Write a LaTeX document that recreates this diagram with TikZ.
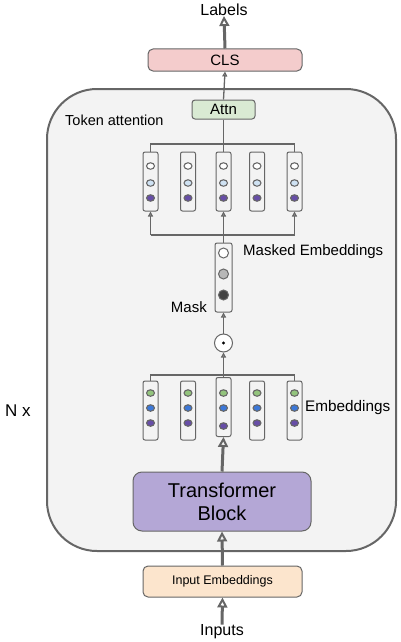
\documentclass[tikz,border=0pt]{standalone}
\usepackage{fontspec}
\setmainfont{Liberation Sans}
\usetikzlibrary{arrows.meta,shapes.geometric}
\definecolor{ln}{HTML}{666666}
\definecolor{bgc}{HTML}{F3F3F3}
\definecolor{clsc}{HTML}{F4CCCC}
\definecolor{attnc}{HTML}{D9EAD3}
\definecolor{tbc}{HTML}{B4A7D6}
\definecolor{iec}{HTML}{FCE5CD}
\definecolor{lblue}{HTML}{CFE2F3}
\definecolor{purp}{HTML}{674EA7}
\definecolor{grn}{HTML}{93C47D}
\definecolor{blu}{HTML}{3C78D8}
\definecolor{mgray}{HTML}{B7B7B7}
\definecolor{dgray}{HTML}{434343}
\tikzset{
  box/.style={draw=ln, line width=1pt, rounded corners=5pt, inner sep=0pt, align=center},
  col/.style={draw=ln, line width=1pt, rounded corners=2pt, minimum width=15pt, minimum height=59pt, inner sep=0pt},
  dotc/.style={ellipse, draw=ln, line width=1.1pt, minimum width=8pt, minimum height=6.5pt, inner sep=0pt},
  bigdot/.style={circle, draw=ln, line width=1pt, minimum size=10pt, inner sep=0pt},
  conn/.style={draw=ln, line width=1.3pt},
  thin/.style={conn, -{Triangle[open, length=5pt, width=5pt]}},
  thick/.style={draw=ln, line width=3pt, -{Triangle[open, length=10pt, width=10pt, line width=2pt]}},
  lbl/.style={inner sep=0pt, text=black}
}
\begin{document}
\begin{tikzpicture}[x=1pt,y=-1pt]
\useasboundingbox (0,0) rectangle (400,642);
% outer block
\node[draw=ln, line width=2pt, fill=bgc, rounded corners=50pt, minimum width=349pt, minimum height=462pt, inner sep=0pt] (outer) at (221.5,320) {};
% boxes
\node[box, fill=clsc, minimum width=154pt, minimum height=22pt, font=\fontsize{15}{17}\selectfont] (cls) at (225,60) {CLS};
\node[box, fill=attnc, rounded corners=3pt, minimum width=63pt, minimum height=19pt, font=\fontsize{15}{17}\selectfont] (attn) at (223.5,109.5) {Attn};
\node[box, fill=tbc, rounded corners=9pt, minimum width=178pt, minimum height=59pt, font=\fontsize{20}{23}\selectfont] (tb) at (222,501.5) {Transformer\\Block};
\node[box, fill=iec, rounded corners=5pt, minimum width=159pt, minimum height=31pt, font=\fontsize{12.5}{14}\selectfont] (ie) at (222.5,581.5) {Input Embeddings};
% texts
\node[lbl, font=\fontsize{16}{18}\selectfont] (labels) at (224,10) {Labels};
\node[lbl, font=\fontsize{16}{18}\selectfont] (inputs) at (222,632) {Inputs};
\node[lbl, font=\fontsize{17}{19}\selectfont] (nx) at (18,411) {N x};
\node[lbl, anchor=west, font=\fontsize{14.5}{17}\selectfont] (tokatt) at (65,120) {Token attention};
\node[lbl, anchor=west, font=\fontsize{15}{17}\selectfont] (maskemb) at (243,252) {Masked Embeddings};
\node[lbl, anchor=east, font=\fontsize{15}{17}\selectfont] (masklbl) at (207,307) {Mask};
\node[lbl, anchor=west, font=\fontsize{15.3}{17}\selectfont] (emb) at (305,408) {Embeddings};
% top (attention) columns
\foreach \i/\x in {1/150.5,2/188,3/223.5,4/257,5/294.5}{
  \node[col] (t\i) at (\x,181.5) {};
  \node[dotc, fill=white] (ta\i) at (\x,166) {};
  \node[dotc, fill=lblue] (tb\i) at (\x,183) {};
  \node[dotc, fill=purp] (tc\i) at (\x,198) {};
}
% bottom (embedding) columns
\foreach \i/\x in {1/150.5,2/188,4/257,5/294.5}{
  \node[col] (e\i) at (\x,410.5) {};
  \node[dotc, fill=grn] (ea\i) at (\x,393) {};
  \node[dotc, fill=blu] (eb\i) at (\x,408) {};
  \node[dotc, fill=purp] (ec\i) at (\x,423) {};
}
\node[col] (e3) at (223.5,407) {};
\node[dotc, fill=grn] (ea3) at (223.5,393) {};
\node[dotc, fill=blu] (eb3) at (223.5,408) {};
\node[dotc, fill=purp] (ec3) at (223.5,426) {};
% masked column
\node[col, minimum width=17pt, minimum height=69pt] (m) at (223.5,277.5) {};
\node[bigdot, fill=white] (ma) at (223.5,253) {};
\node[bigdot, fill=mgray] (mb) at (223.5,274) {};
\node[bigdot, fill=dgray] (mc) at (223.5,295) {};
% odot
\node[circle, draw=ln, line width=1pt, fill=white, minimum size=18pt, inner sep=0pt] (dot) at (223.5,343) {};
\fill (dot.center) circle (1.6pt);
% bus coordinates
\coordinate (tbus) at (223.5,144);
\coordinate (bbus) at (223.5,235);
\coordinate (ebus) at (223.5,375);
% connectors
\draw[thick] (cls.north) -- (labels.south);
\draw[thin] (attn.north) -- (cls.south);
\draw[conn] (attn.south) -- (t3.north);
\draw[conn] (t1.north) -- (t1.north |- tbus) -- (t5.north |- tbus) -- (t5.north);
\draw[conn] (m.north) -- (bbus);
\draw[conn] (t1.south |- bbus) -- (t5.south |- bbus);
\draw[thin] (t1.south |- bbus) -- (t1.south);
\draw[thin] (bbus) -- (t3.south);
\draw[thin] (t5.south |- bbus) -- (t5.south);
\draw[thin] (dot.north) -- (m.south);
\draw[thin] (e3.north) -- (dot.south);
\draw[conn] (e1.north) -- (e1.north |- ebus) -- (e5.north |- ebus) -- (e5.north);
\draw[thick] (tb.north) -- (e3.south);
\draw[thick] (ie.north) -- (tb.south);
\draw[thick] (inputs.north) -- (ie.south);
\end{tikzpicture}
\end{document}
